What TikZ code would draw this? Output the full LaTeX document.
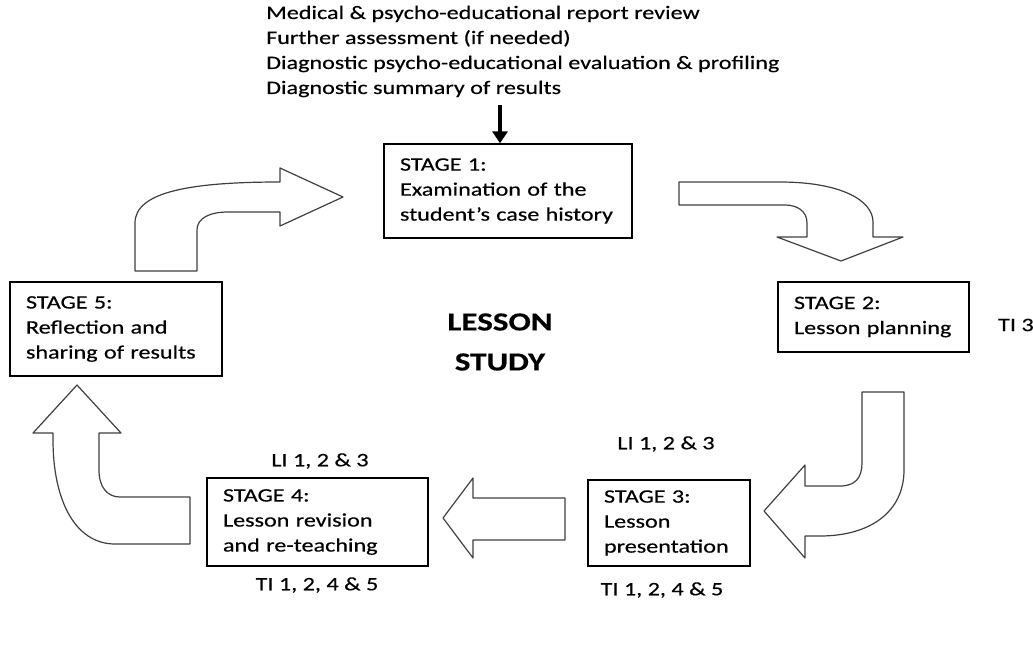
\documentclass[tikz,border=0pt]{standalone}
\usepackage{fontspec}
\setmainfont{Carlito}[FakeStretch=1.27, FakeBold=0.4]
\usetikzlibrary{arrows.meta}
\begin{document}
\begin{tikzpicture}[x=1pt, y=-1pt,
    stagebox/.style={draw, line width=1.3pt, align=left, inner xsep=16pt, font=\fontsize{19}{25}\selectfont},
    tag/.style={font=\fontsize{19}{25}\selectfont},
    blockarrow/.style={draw=black!75, line width=1.2pt, fill=white, line join=round}]
    \useasboundingbox (0,0) rectangle (1033,653);
    % the stages
    \node[stagebox, text width=216pt, minimum height=94pt] (s1) at (508,191) {STAGE 1:\\Examination of the\\student’s case history};
    \node[stagebox, text width=159pt, minimum height=70pt] (s2) at (873.5,317) {STAGE 2:\\Lesson planning};
    \node[stagebox, text width=130pt, minimum height=86pt] (s3) at (669,523) {STAGE 3:\\Lesson\\presentation};
    \node[stagebox, text width=189pt, minimum height=88pt] (s4) at (317.5,522) {STAGE 4:\\Lesson revision\\and re-teaching};
    \node[stagebox, text width=180pt, minimum height=94pt] (s5) at (116,329) {STAGE 5:\\Reflection and\\sharing of results};
    % case history input
    \node[tag, align=left, anchor=west, inner sep=0pt] (hdr) at (266,51.5) {Medical \& psycho-educational report review\\Further assessment (if needed)\\Diagnostic psycho-educational evaluation \& profiling\\Diagnostic summary of results};
    \coordinate (hdrfoot) at (500,105);
    \draw[line width=4pt, -{Triangle[width=15pt, length=12pt]}] (hdrfoot) -- (s1.north -| hdrfoot);
    \node[font=\fontsize{26}{40}\selectfont\bfseries, align=center] (ls) at (500,342) {LESSON\\STUDY};
    % indicators
    \node[tag, anchor=west, inner sep=0pt] (ti3) at (998,325) {TI 3};
    \node[tag] (li3) at (666,444) {LI 1, 2 \& 3};
    \node[tag] (ti3b) at (662,590) {TI 1, 2, 4 \& 5};
    \node[tag] (li4) at (320,461) {LI 1, 2 \& 3};
    \node[tag] (ti4) at (317,585) {TI 1, 2, 4 \& 5};
    % block arrows
    \draw[blockarrow] (135,271) -- (135,223) .. controls (135,192) and (190,182) .. (280,182) -- (280,168) -- (343,197) -- (280,226) -- (280,212) -- (228,212) .. controls (210,212) and (197,218) .. (197,230) -- (197,271) -- cycle;
    \draw[blockarrow] (679,182) -- (780,182) .. controls (840,182) and (873,200) .. (873,222) -- (873,237) -- (903,237) -- (841,261) -- (777,237) -- (807,237) -- (807,223) .. controls (807,211) and (797,205) .. (785,205) -- (679,205) -- cycle;
    \draw[blockarrow] (862,392) -- (904,392) -- (904,470) .. controls (904,512) and (870,536) .. (820,536) -- (805,536) -- (805,558) -- (764,511) -- (805,465) -- (805,486) -- (840,486) .. controls (855,486) and (862,478) .. (862,463) -- cycle;
    \draw[blockarrow] (565,498) -- (565,540) -- (473,540) -- (473,558) -- (443,518) -- (473,478) -- (473,498) -- cycle;
    \draw[blockarrow] (190,497) -- (190,544) -- (115,544) .. controls (75,544) and (53,500) .. (53,440) -- (53,433) -- (33,433) -- (77,385) -- (121,433) -- (99,433) -- (99,470) .. controls (99,488) and (108,497) .. (120,497) -- cycle;
\end{tikzpicture}
\end{document}
